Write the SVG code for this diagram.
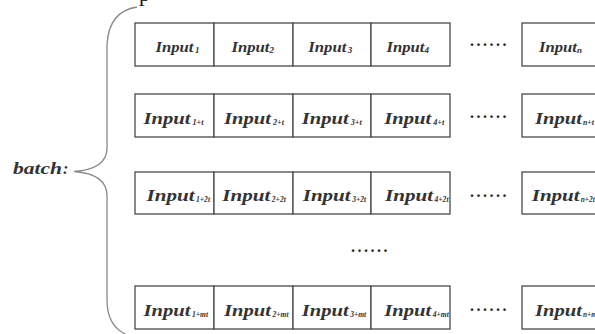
<svg xmlns="http://www.w3.org/2000/svg" width="595" height="334" viewBox="0 0 595 334">
<style>
.cell{fill:#fff;stroke:#4a4a4a;stroke-width:1.3}
.t{font-family:"Liberation Serif","Times New Roman",serif;font-style:italic;font-weight:bold;fill:#333}
.m1{font-size:15px}
.m{font-size:17px}
.s{font-size:9px}
.s1{font-size:9px}
.dots{font-family:"Liberation Serif",serif;font-weight:bold;font-size:16px;letter-spacing:2.5px;fill:#222}
.brace{fill:none;stroke:#8a8a8a;stroke-width:1.3}
</style>
<rect width="595" height="334" fill="#fff"/>
<text x="139" y="0.5" font-family="Liberation Serif,serif" font-size="22" fill="#111">p</text>
<g id="connectors">
<path class="brace" d="M137,7 C118,10 108,22 107,45 L107,148 C107,162 95,170 74,171.5 C95,173 107,181 107,196 L107,300 C107,320 115,331 130,336"/>
</g>
<g id="batch-label">
<text class="t" x="13" y="174" font-size="17" fill="#111" textLength="49" lengthAdjust="spacingAndGlyphs">batch</text>
<text class="t" x="63" y="174" font-size="16" fill="#111">:</text>
</g>

<g id="row1">
<rect class="cell" x="135" y="23" width="79" height="43"/>
<rect class="cell" x="214" y="23" width="79" height="43"/>
<rect class="cell" x="293" y="23" width="78" height="43"/>
<rect class="cell" x="371" y="23" width="79" height="43"/>
<rect class="cell" x="522" y="23" width="80" height="43"/>
<text class="t" x="155.5" y="51.7"><tspan class="m1" textLength="38" lengthAdjust="spacingAndGlyphs">Input</tspan><tspan class="s1" dx="1.5" dy="1.5">1</tspan></text>
<text class="t" x="231.5" y="51.7"><tspan class="m1" textLength="38" lengthAdjust="spacingAndGlyphs">Input</tspan><tspan class="s1" dy="1.5">2</tspan></text>
<text class="t" x="308.3" y="51.7"><tspan class="m1" textLength="38" lengthAdjust="spacingAndGlyphs">Input</tspan><tspan class="s1" dx="1.5" dy="1.5">3</tspan></text>
<text class="t" x="386.5" y="51.7"><tspan class="m1" textLength="38" lengthAdjust="spacingAndGlyphs">Input</tspan><tspan class="s1" dy="1.5">4</tspan></text>
<text class="dots" x="470" y="46">......</text>
<text class="t" x="539" y="51.7"><tspan class="m1" textLength="38" lengthAdjust="spacingAndGlyphs">Input</tspan><tspan class="s1" dy="1.5">n</tspan></text>
</g>

<g id="row2">
<rect class="cell" x="135" y="94" width="79" height="43"/>
<rect class="cell" x="214" y="94" width="79" height="43"/>
<rect class="cell" x="293" y="94" width="78" height="43"/>
<rect class="cell" x="371" y="94" width="79" height="43"/>
<rect class="cell" x="522" y="94" width="80" height="43"/>
<text class="t" x="143.5" y="123.5"><tspan class="m" textLength="47" lengthAdjust="spacingAndGlyphs">Input</tspan><tspan class="s" dx="2" dy="1" textLength="11" lengthAdjust="spacingAndGlyphs">1+t</tspan></text>
<text class="t" x="224" y="123.5"><tspan class="m" textLength="47" lengthAdjust="spacingAndGlyphs">Input</tspan><tspan class="s" dx="2" dy="1" textLength="11" lengthAdjust="spacingAndGlyphs">2+t</tspan></text>
<text class="t" x="301.7" y="123.5"><tspan class="m" textLength="47" lengthAdjust="spacingAndGlyphs">Input</tspan><tspan class="s" dx="2" dy="1" textLength="11" lengthAdjust="spacingAndGlyphs">3+t</tspan></text>
<text class="t" x="384.3" y="123.5"><tspan class="m" textLength="47" lengthAdjust="spacingAndGlyphs">Input</tspan><tspan class="s" dx="2" dy="1" textLength="11" lengthAdjust="spacingAndGlyphs">4+t</tspan></text>
<text class="dots" x="470" y="118">......</text>
<text class="t" x="535" y="123.5"><tspan class="m" textLength="47" lengthAdjust="spacingAndGlyphs">Input</tspan><tspan class="s" dx="1" dy="1" textLength="11" lengthAdjust="spacingAndGlyphs">n+t</tspan></text>
</g>

<g id="row3">
<rect class="cell" x="135" y="172" width="79" height="42"/>
<rect class="cell" x="214" y="172" width="79" height="42"/>
<rect class="cell" x="293" y="172" width="78" height="42"/>
<rect class="cell" x="371" y="172" width="79" height="42"/>
<rect class="cell" x="522" y="172" width="80" height="42"/>
<text class="t" x="146.5" y="201"><tspan class="m" textLength="48" lengthAdjust="spacingAndGlyphs">Input</tspan><tspan class="s" dx="1.5" dy="1" textLength="14" lengthAdjust="spacingAndGlyphs">1+2t</tspan></text>
<text class="t" x="222.3" y="201"><tspan class="m" textLength="48" lengthAdjust="spacingAndGlyphs">Input</tspan><tspan class="s" dx="1.5" dy="1" textLength="14" lengthAdjust="spacingAndGlyphs">2+2t</tspan></text>
<text class="t" x="302.7" y="201"><tspan class="m" textLength="48" lengthAdjust="spacingAndGlyphs">Input</tspan><tspan class="s" dx="1.5" dy="1" textLength="14" lengthAdjust="spacingAndGlyphs">3+2t</tspan></text>
<text class="t" x="385" y="201"><tspan class="m" textLength="48" lengthAdjust="spacingAndGlyphs">Input</tspan><tspan class="s" dx="1.5" dy="1" textLength="14" lengthAdjust="spacingAndGlyphs">4+2t</tspan></text>
<text class="dots" x="470" y="197">......</text>
<text class="t" x="531.7" y="201"><tspan class="m" textLength="48" lengthAdjust="spacingAndGlyphs">Input</tspan><tspan class="s" dx="1" dy="1" textLength="14" lengthAdjust="spacingAndGlyphs">n+2t</tspan></text>
</g>

<g id="row-gap">
<text class="dots" x="351" y="252">......</text>
</g>

<g id="row4">
<rect class="cell" x="135" y="286" width="79" height="43"/>
<rect class="cell" x="214" y="286" width="79" height="43"/>
<rect class="cell" x="293" y="286" width="78" height="43"/>
<rect class="cell" x="371" y="286" width="79" height="43"/>
<rect class="cell" x="522" y="286" width="80" height="43"/>
<text class="t" x="143.5" y="315.5"><tspan class="m" textLength="47" lengthAdjust="spacingAndGlyphs">Input</tspan><tspan class="s" dx="1.5" dy="1" textLength="16" lengthAdjust="spacingAndGlyphs">1+mt</tspan></text>
<text class="t" x="224" y="315.5"><tspan class="m" textLength="47" lengthAdjust="spacingAndGlyphs">Input</tspan><tspan class="s" dx="1.5" dy="1" textLength="16" lengthAdjust="spacingAndGlyphs">2+mt</tspan></text>
<text class="t" x="301.7" y="315.5"><tspan class="m" textLength="47" lengthAdjust="spacingAndGlyphs">Input</tspan><tspan class="s" dx="1.5" dy="1" textLength="16" lengthAdjust="spacingAndGlyphs">3+mt</tspan></text>
<text class="t" x="384.3" y="315.5"><tspan class="m" textLength="47" lengthAdjust="spacingAndGlyphs">Input</tspan><tspan class="s" dx="1.5" dy="1" textLength="16" lengthAdjust="spacingAndGlyphs">4+mt</tspan></text>
<text class="dots" x="470" y="311">......</text>
<text class="t" x="535" y="315.5"><tspan class="m" textLength="47" lengthAdjust="spacingAndGlyphs">Input</tspan><tspan class="s" dx="1" dy="1" textLength="16" lengthAdjust="spacingAndGlyphs">n+mt</tspan></text>
</g>
</svg>
